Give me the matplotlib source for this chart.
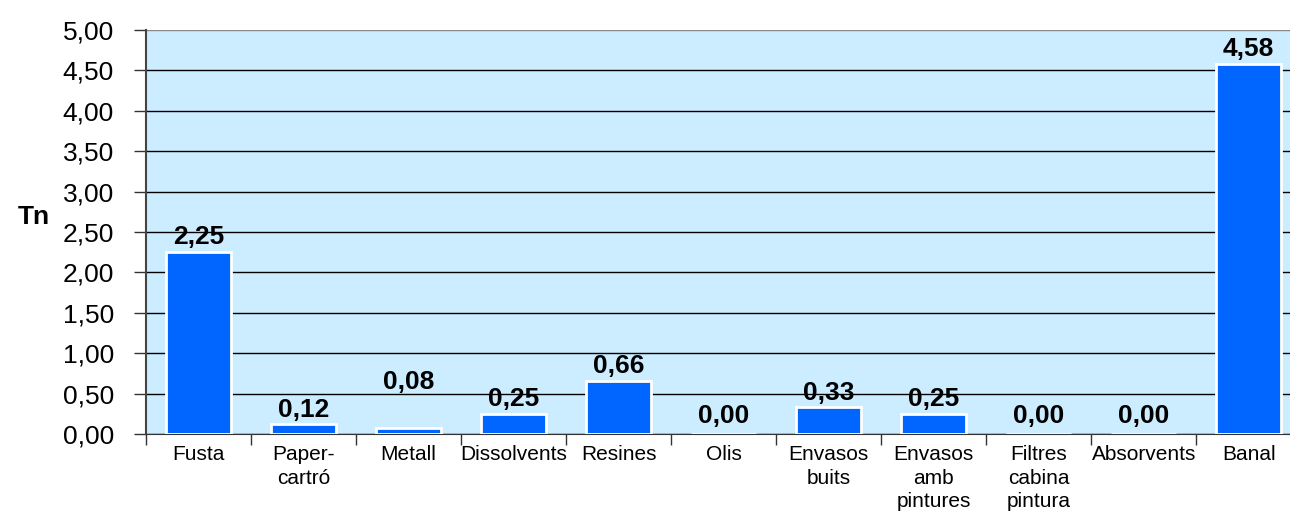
import matplotlib.pyplot as plt
import numpy as np
from matplotlib.ticker import FixedLocator

plt.rcParams['font.family'] = ['Liberation Sans', 'DejaVu Sans']

# Residus generats (Tn)
categories = ['Fusta', 'Paper-\ncartró', 'Metall', 'Dissolvents', 'Resines', 'Olis',
              'Envasos\nbuits', 'Envasos\namb\npintures', 'Filtres\ncabina\npintura',
              'Absorvents', 'Banal']
values = [2.25, 0.12, 0.08, 0.25, 0.66, 0.00, 0.33, 0.25, 0.00, 0.00, 4.58]
# vertical offset (points) of each value label above its bar
label_offsets = [2, 2, 24, 2, 2, 4, 2, 2, 4, 4, 2]

fig = plt.figure(figsize=(12.9, 5.12), dpi=100)
ax = fig.add_axes([0.1132, 0.1523, 0.8955, 0.7891])
ax.set_facecolor('#CCECFF')

x = np.arange(len(categories))
bars = ax.bar(x, values, width=0.62, color='#0066FF', edgecolor='white', linewidth=2, zorder=3)

for xi, v, off in zip(x, values, label_offsets):
    ax.annotate(f'{v:.2f}'.replace('.', ','), (xi, v), xytext=(0, off), textcoords='offset points',
                ha='center', va='bottom', fontsize=19, fontweight='bold', zorder=4)

ax.set_xlim(-0.5, len(categories) - 0.5)
ax.set_ylim(0, 5)
yt = np.arange(0, 5.01, 0.5)
ax.set_yticks(yt)
ax.set_yticklabels([f'{t:.2f}'.replace('.', ',') for t in yt], fontsize=19)
ax.yaxis.grid(True, color='black', linewidth=1, zorder=1)
ax.get_ygridlines()[-1].set_color('#888888')

ax.set_xticks(x)
ax.set_xticklabels(categories, fontsize=15, linespacing=1.3)
ax.tick_params(axis='x', which='major', length=0, pad=8)
ax.xaxis.set_minor_locator(FixedLocator(np.arange(-0.5, len(categories), 1)))
ax.tick_params(axis='x', which='minor', length=8, width=1, color='#333333')
ax.tick_params(axis='y', length=9, width=1, color='#333333', pad=14)

for s in ['top', 'right']:
    ax.spines[s].set_visible(False)
ax.spines['left'].set_color('#444444')
ax.spines['left'].set_linewidth(1.5)
ax.spines['bottom'].set_color('#333333')

ax.set_ylabel('Tn', fontsize=19, fontweight='bold', rotation=0, va='center', ha='center')
ax.yaxis.set_label_coords(-0.097, 0.537)

fig.savefig('out.png', dpi=100)
